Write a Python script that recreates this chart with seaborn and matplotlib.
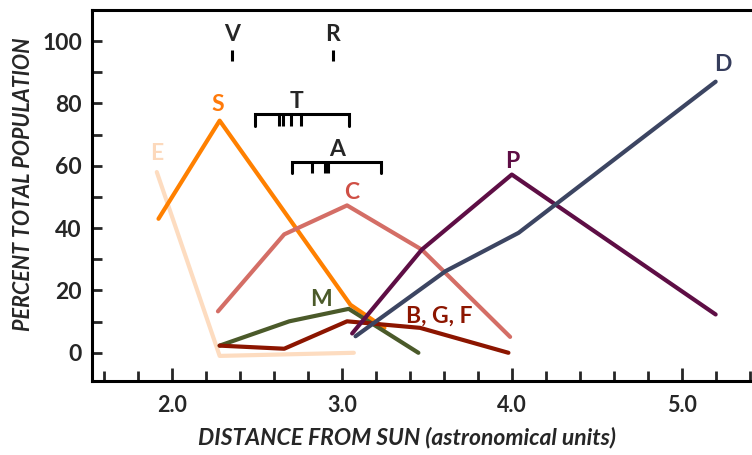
import matplotlib
matplotlib.use("Agg")
import matplotlib.pyplot as plt
import pandas as pd
import seaborn as sns

# percent of population vs. distance (AU), one list per group
e_x = [1.91, 2.28, 3.07]
e_y = [58, -1, 0]
s_x = [1.92, 2.28, 3.05, 3.25]
s_y = [43, 74.5, 15.4, 8]
c_x = [2.27, 2.66, 3.03, 3.47, 3.99]
c_y = [13.3, 38, 47.3, 33.1, 5.1]
m_x = [2.28, 2.69, 3.04, 3.45]
m_y = [2.3, 10.1, 14.1, 0]
bgf_x = [2.28, 2.66, 3.03, 3.46, 3.98]
bgf_y = [2.3, 1.3, 10.1, 8.0, 0]
p_x = [3.06, 3.47, 4.0, 5.2]
p_y = [6.2, 33.1, 57.2, 12.3]
d_x = [3.08, 3.61, 4.04, 5.2]
d_y = [5.3, 26.2, 38.5, 87]

groups = ["E", "S", "C", "M", "B, G, F", "P", "D"]
line_colors = {"E": "#fddcc0", "S": "#ff8000", "C": "#d46e66", "M": "#4b5a2a",
               "B, G, F": "#8c1500", "P": "#5e0e45", "D": "#3c4562"}
label_colors = {"E": "#fcd9bc", "S": "#ff7a0a", "C": "#cf4f45", "M": "#4b5a2a",
                "B, G, F": "#8c1500", "P": "#5e0e45", "D": "#363d5c"}
# where each group's letter sits
label_x = [1.91, 2.27, 3.06, 2.875, 3.57, 4.005, 5.245]
label_y = [63.9, 79.7, 51.5, 17.1, 11.7, 61.5, 92.5]

# single-object markers (V, R) and family ranges (T, A)
mark_names = ["V", "R"]
mark_x = [2.351, 2.946]
range_names = ["T", "A"]
range_lo = [2.488, 2.708]
range_hi = [3.042, 3.228]
range_level = [76.5, 61.3]
range_ticks = [[2.632, 2.652, 2.699, 2.757], [2.822, 2.903, 2.917]]
range_label_x = [2.73, 2.97]

xs = [e_x, s_x, c_x, m_x, bgf_x, p_x, d_x]
ys = [e_y, s_y, c_y, m_y, bgf_y, p_y, d_y]
df = pd.concat([pd.DataFrame({"group": g, "dist": x, "pct": y})
                for g, x, y in zip(groups, xs, ys)], ignore_index=True)

sns.set_style("white")
plt.rcParams["font.family"] = ["Lato", "DejaVu Sans"]

fig = plt.figure(figsize=(7.52, 4.55), dpi=100)
ax = fig.add_axes([0.122, 0.163, 0.878, 0.815])

sns.lineplot(data=df, x="dist", y="pct", hue="group", units="group",
             estimator=None, sort=False, palette=line_colors, lw=3,
             legend=False, ax=ax)

for g, lx, ly in zip(groups, label_x, label_y):
    ax.text(lx, ly, g, color=label_colors[g], fontsize=16.5, fontweight="bold",
            ha="center", va="center")

# V and R: a short tick under a letter
for name, mx in zip(mark_names, mark_x):
    ax.plot([mx, mx], [93.5, 97.3], color="black", lw=2.2, solid_capstyle="butt")
    ax.text(mx, 102.1, name, fontsize=16.5, fontweight="bold", ha="center", va="center")

# T and A: bracket spanning the range with member ticks
for name, lo, hi, lev, ticks, tx in zip(range_names, range_lo, range_hi,
                                        range_level, range_ticks, range_label_x):
    drop = lev - 3.6
    ax.plot([lo, lo, hi, hi], [drop, lev, lev, drop], color="black", lw=2.2,
            solid_joinstyle="miter")
    for t in ticks:
        ax.plot([t, t], [drop, lev], color="black", lw=2.2, solid_capstyle="butt")
    ax.text(tx, lev + 4.0, name, fontsize=16.5, fontweight="bold", ha="center", va="center")

ax.set_xlim(1.527, 5.414)
ax.set_ylim(-9, 110)

ax.set_xticks([2, 3, 4, 5], ["2.0", "3.0", "4.0", "5.0"])
ax.set_xticks([x / 10 for x in range(16, 56, 2)], minor=True)
ax.set_yticks([0, 20, 40, 60, 80, 100])
ax.set_yticks([10, 30, 50, 70, 90], minor=True)
ax.tick_params(axis="x", which="major", direction="in", length=9.5, width=2,
               pad=10, labelsize=15.5)
ax.tick_params(axis="x", which="minor", direction="in", length=7, width=2)
ax.tick_params(axis="y", which="both", direction="in", length=7, width=2,
               pad=7, labelsize=16.5)
for lab in ax.get_xticklabels() + ax.get_yticklabels():
    lab.set_fontweight("bold")
ax.tick_params(axis="both", which="both", bottom=True, left=True)

for side in ["left", "bottom", "top"]:
    ax.spines[side].set_linewidth(2.2)
    ax.spines[side].set_color("black")
ax.spines["right"].set_visible(False)

ax.set_xlabel("DISTANCE FROM SUN (astronomical units)", fontsize=16.5,
              fontstyle="italic", fontweight="bold")
ax.set_ylabel("PERCENT TOTAL POPULATION", fontsize=15.5, fontstyle="italic",
              fontweight="bold")
# the original title sits a little left of the axes centre
ax.xaxis.set_label_coords(0.477, -0.125)
ax.yaxis.set_label_coords(-0.087, 0.53)

fig.savefig("out.png", dpi=100)
